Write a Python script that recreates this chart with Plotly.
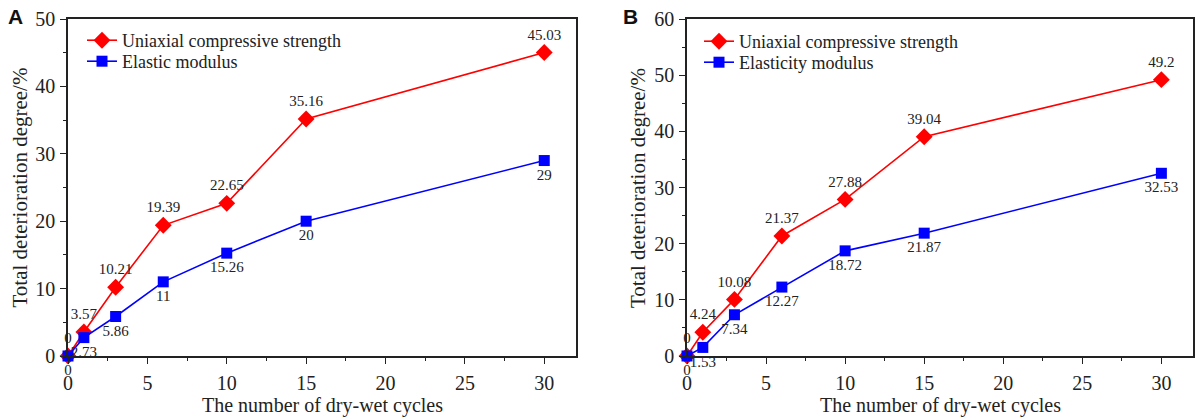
import plotly.graph_objects as go

cycles = [0, 1, 3, 6, 10, 15, 30]
ucs_a = [0, 3.57, 10.21, 19.39, 22.65, 35.16, 45.03]
mod_a = [0, 2.73, 5.86, 11, 15.26, 20, 29]
ucs_b = [0, 4.24, 10.08, 21.37, 27.88, 39.04, 49.2]
mod_b = [0, 1.53, 7.34, 12.27, 18.72, 21.87, 32.53]

RED = "#FF0000"
BLUE = "#0000FF"
SERIF = "Liberation Serif, Times New Roman, serif"

fig = go.Figure()

def add(x, y, name, color, symbol, size, pos, xa, ya, legend):
    fig.add_trace(go.Scatter(
        x=x, y=y, name=name, mode="lines+markers+text",
        line=dict(color=color, width=1.6),
        marker=dict(color=color, symbol=symbol, size=size),
        text=[f"{v:g}" for v in y], textposition=pos,
        textfont=dict(family=SERIF, size=15, color="#222"),
        cliponaxis=False, xaxis=xa, yaxis=ya, legend=legend))

add(cycles, ucs_a, "Uniaxial compressive strength", RED, "diamond", 13, "top center", "x", "y", "legend")
add(cycles, mod_a, "Elastic modulus", BLUE, "square", 11, "bottom center", "x", "y", "legend2")
add(cycles, ucs_b, "Uniaxial compressive strength", RED, "diamond", 13, "top center", "x2", "y2", "legend3")
add(cycles, mod_b, "Elasticity modulus", BLUE, "square", 11, "bottom center", "x2", "y2", "legend4")

W, H = 1198, 419
ax_common = dict(showline=True, linecolor="#222", linewidth=1.5, mirror=True,
                 ticks="outside", ticklen=6, tickwidth=1.3, tickcolor="#222",
                 showgrid=False, zeroline=False, automargin=False,
                 tickfont=dict(family=SERIF, size=20, color="#222"))
xminor = dict(ticks="outside", ticklen=3, dtick=2.5, tickcolor="#222", tickwidth=1.2)
yminor = dict(ticks="outside", ticklen=3, dtick=5, tickcolor="#222", tickwidth=1.2)

def leg(xpx, ypx):
    return dict(x=xpx / W, y=1 - ypx / H, xanchor="left", yanchor="top",
                bgcolor="rgba(0,0,0,0)", font=dict(family=SERIF, size=18, color="#222"),
                itemwidth=30)

ybot = 1 - 356 / H
ytop = 1 - 19 / H
fig.update_layout(
    width=W, height=H, margin=dict(l=0, r=0, t=0, b=0, autoexpand=False),
    plot_bgcolor="white", paper_bgcolor="white",
    xaxis=dict(domain=[68 / W, 576 / W], range=[0, 32], dtick=5, tick0=0,
               minor=xminor, anchor="y", ticklabelstandoff=2, **ax_common),
    yaxis=dict(domain=[ybot, ytop], range=[0, 50], dtick=10,
               minor=yminor, anchor="x", ticklabelstandoff=1, **ax_common),
    xaxis2=dict(domain=[687 / W, 1193 / W], range=[0, 32], dtick=5, tick0=0,
                minor=xminor, anchor="y2", ticklabelstandoff=2, **ax_common),
    yaxis2=dict(domain=[ybot, ytop], range=[0, 60], dtick=10,
                minor=yminor, anchor="x2", ticklabelstandoff=1, **ax_common),
    legend=leg(82, 22),
    legend2=leg(82, 43),
    legend3=leg(699, 23),
    legend4=leg(699, 44),
    showlegend=True,
)

annos = [
    dict(text="<b>A</b>", x=15.5 / W, y=1 - 17 / H, font=dict(family="Liberation Sans, Arial", size=21, color="#111")),
    dict(text="<b>B</b>", x=630 / W, y=1 - 17 / H, font=dict(family="Liberation Sans, Arial", size=21, color="#111")),
    dict(text="The number of dry-wet cycles", x=322 / W, y=1 - 405 / H, font=dict(family=SERIF, size=20, color="#222")),
    dict(text="The number of dry-wet cycles", x=940 / W, y=1 - 405 / H, font=dict(family=SERIF, size=20, color="#222")),
    dict(text="Total deterioration degree/%", x=19.5 / W, y=1 - 188 / H, textangle=-90, font=dict(family=SERIF, size=21, color="#222")),
    dict(text="Total deterioration degree/%", x=638 / W, y=1 - 188 / H, textangle=-90, font=dict(family=SERIF, size=21, color="#222")),
]
for a in annos:
    fig.add_annotation(xref="paper", yref="paper", xanchor="center", yanchor="middle",
                       showarrow=False, **a)

fig.write_html("out.html")
